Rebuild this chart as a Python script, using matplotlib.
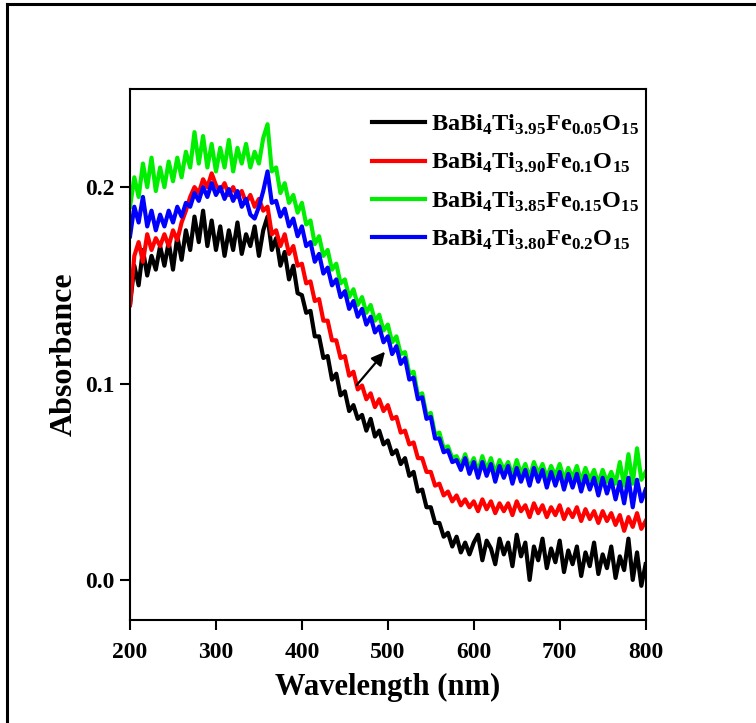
import numpy as np
import matplotlib
matplotlib.use("Agg")
import matplotlib.pyplot as plt
from matplotlib.lines import Line2D

plt.rcParams["font.family"] = "Liberation Serif"
plt.rcParams["font.weight"] = "bold"
plt.rcParams["mathtext.fontset"] = "custom"
plt.rcParams["mathtext.rm"] = "Liberation Serif:bold"
plt.rcParams["mathtext.bf"] = "Liberation Serif:bold"

# Longitud de onda (nm), paso de 5 nm
wl = np.arange(200, 801, 5)

# Absorbancia de cada muestra
abs_005 = [0.140, 0.160, 0.150, 0.168, 0.155, 0.165, 0.158, 0.170,
           0.160, 0.172, 0.158, 0.175, 0.163, 0.178, 0.168, 0.185,
           0.172, 0.188, 0.170, 0.183, 0.168, 0.180, 0.165, 0.178,
           0.168, 0.182, 0.166, 0.176, 0.170, 0.180, 0.165, 0.178,
           0.185, 0.168, 0.174, 0.160, 0.167, 0.153, 0.160, 0.146,
           0.145, 0.136, 0.137, 0.124, 0.124, 0.113, 0.114, 0.102,
           0.105, 0.094, 0.096, 0.086, 0.089, 0.082, 0.084, 0.076,
           0.082, 0.073, 0.076, 0.069, 0.071, 0.064, 0.066, 0.059,
           0.062, 0.053, 0.055, 0.045, 0.046, 0.037, 0.037, 0.029,
           0.029, 0.022, 0.024, 0.017, 0.022, 0.014, 0.019, 0.013,
           0.019, 0.023, 0.010, 0.020, 0.016, 0.008, 0.021, 0.013,
           0.019, 0.007, 0.023, 0.012, 0.019, 0.000, 0.017, 0.010,
           0.021, 0.006, 0.016, 0.009, 0.020, 0.004, 0.015, 0.008,
           0.017, 0.002, 0.014, 0.007, 0.019, 0.003, 0.013, 0.006,
           0.017, 0.001, 0.012, 0.005, 0.021, 0.000, 0.014, -0.003,
           0.008]
abs_010 = [0.140, 0.165, 0.172, 0.162, 0.176, 0.168, 0.174, 0.170,
           0.176, 0.170, 0.178, 0.173, 0.182, 0.188, 0.195, 0.200,
           0.197, 0.204, 0.200, 0.207, 0.201, 0.198, 0.202, 0.196,
           0.200, 0.195, 0.198, 0.192, 0.196, 0.190, 0.194, 0.188,
           0.190, 0.176, 0.178, 0.170, 0.176, 0.166, 0.170, 0.160,
           0.161, 0.151, 0.152, 0.142, 0.143, 0.132, 0.132, 0.122,
           0.122, 0.113, 0.114, 0.104, 0.106, 0.097, 0.099, 0.092,
           0.095, 0.088, 0.092, 0.086, 0.089, 0.082, 0.083, 0.075,
           0.076, 0.069, 0.070, 0.062, 0.062, 0.055, 0.055, 0.048,
           0.049, 0.043, 0.045, 0.040, 0.043, 0.038, 0.041, 0.037,
           0.040, 0.035, 0.041, 0.036, 0.040, 0.034, 0.039, 0.035,
           0.039, 0.033, 0.040, 0.035, 0.038, 0.032, 0.039, 0.034,
           0.038, 0.032, 0.037, 0.033, 0.038, 0.031, 0.036, 0.032,
           0.037, 0.030, 0.036, 0.031, 0.035, 0.029, 0.035, 0.030,
           0.034, 0.028, 0.033, 0.025, 0.032, 0.027, 0.034, 0.026,
           0.030]
abs_015 = [0.190, 0.205, 0.195, 0.212, 0.200, 0.215, 0.198, 0.210,
           0.200, 0.213, 0.203, 0.215, 0.205, 0.218, 0.210, 0.228,
           0.212, 0.226, 0.210, 0.222, 0.208, 0.220, 0.210, 0.224,
           0.208, 0.220, 0.212, 0.222, 0.210, 0.218, 0.212, 0.225,
           0.232, 0.208, 0.210, 0.197, 0.202, 0.192, 0.196, 0.187,
           0.192, 0.181, 0.183, 0.171, 0.175, 0.165, 0.168, 0.158,
           0.161, 0.151, 0.153, 0.144, 0.148, 0.140, 0.144, 0.136,
           0.140, 0.132, 0.135, 0.127, 0.130, 0.121, 0.124, 0.115,
           0.116, 0.105, 0.106, 0.094, 0.095, 0.084, 0.085, 0.074,
           0.075, 0.067, 0.068, 0.062, 0.063, 0.058, 0.064, 0.057,
           0.062, 0.055, 0.063, 0.056, 0.062, 0.054, 0.061, 0.056,
           0.060, 0.053, 0.061, 0.054, 0.059, 0.052, 0.060, 0.054,
           0.059, 0.052, 0.058, 0.053, 0.059, 0.051, 0.057, 0.052,
           0.058, 0.050, 0.057, 0.051, 0.056, 0.049, 0.056, 0.050,
           0.055, 0.049, 0.060, 0.048, 0.064, 0.049, 0.067, 0.051,
           0.055]
abs_020 = [0.175, 0.190, 0.182, 0.195, 0.180, 0.188, 0.178, 0.186,
           0.180, 0.188, 0.182, 0.190, 0.185, 0.192, 0.190, 0.197,
           0.193, 0.200, 0.195, 0.202, 0.196, 0.200, 0.194, 0.199,
           0.193, 0.198, 0.190, 0.194, 0.186, 0.184, 0.190, 0.198,
           0.208, 0.192, 0.193, 0.185, 0.189, 0.180, 0.184, 0.175,
           0.180, 0.170, 0.172, 0.162, 0.166, 0.156, 0.159, 0.150,
           0.153, 0.144, 0.147, 0.138, 0.142, 0.134, 0.138, 0.130,
           0.134, 0.126, 0.129, 0.121, 0.124, 0.115, 0.119, 0.110,
           0.113, 0.102, 0.103, 0.092, 0.093, 0.082, 0.083, 0.072,
           0.072, 0.065, 0.066, 0.060, 0.061, 0.056, 0.062, 0.054,
           0.060, 0.052, 0.060, 0.053, 0.059, 0.050, 0.058, 0.052,
           0.058, 0.049, 0.057, 0.050, 0.056, 0.048, 0.057, 0.050,
           0.056, 0.047, 0.055, 0.048, 0.055, 0.046, 0.054, 0.047,
           0.054, 0.045, 0.053, 0.046, 0.052, 0.043, 0.052, 0.044,
           0.051, 0.041, 0.050, 0.039, 0.052, 0.037, 0.051, 0.040,
           0.046]

series = [abs_005, abs_010, abs_015, abs_020]
colores = ["black", "red", "#00ee00", "blue"]
etiquetas = [r"BaBi$_\mathregular{4}$Ti$_\mathregular{3.95}$Fe$_\mathregular{0.05}$O$_\mathregular{15}$",
             r"BaBi$_\mathregular{4}$Ti$_\mathregular{3.90}$Fe$_\mathregular{0.1}$O$_\mathregular{15}$",
             r"BaBi$_\mathregular{4}$Ti$_\mathregular{3.85}$Fe$_\mathregular{0.15}$O$_\mathregular{15}$",
             r"BaBi$_\mathregular{4}$Ti$_\mathregular{3.80}$Fe$_\mathregular{0.2}$O$_\mathregular{15}$"]

fig = plt.figure(figsize=(7.56, 7.23), dpi=100)
ax = fig.add_axes([0.172, 0.1425, 0.682, 0.7345])

for y, c, lab in zip(series, colores, etiquetas):
    ax.plot(wl, y, color=c, lw=3.0, label=lab)

ax.set_xlim(200, 800)
ax.set_ylim(-0.0204, 0.25)
ax.set_xticks([200, 300, 400, 500, 600, 700, 800])
ax.set_yticks([0.0, 0.1, 0.2])
ax.set_yticklabels(["0.0", "0.1", "0.2"])
ax.tick_params(direction="out", length=7, width=1.5, labelsize=17, pad=4)
ax.tick_params(axis="x", pad=9)
for s in ax.spines.values():
    s.set_linewidth(1.5)

ax.set_xlabel("Wavelength (nm)", fontsize=22, fontweight="bold", labelpad=7)
ax.set_ylabel("Absorbance", fontsize=23, fontweight="bold", labelpad=5)

# Flecha que indica el aumento de absorbancia
ax.annotate("", xy=(496.7, 0.1162), xytext=(463.8, 0.0992),
            arrowprops=dict(arrowstyle="-|>", lw=1.6, color="black",
                            mutation_scale=20, shrinkA=0, shrinkB=0))

leg = ax.legend(loc="upper left", bbox_to_anchor=(0.469, 0.955), frameon=False,
                fontsize=17.5, handlelength=2.2, handletextpad=0.25,
                labelspacing=0.58, borderpad=0, borderaxespad=0)
for h in leg.get_lines():
    h.set_linewidth(3.0)

# Marco exterior
fig.add_artist(Line2D([0.0099, 0.0099], [0, 0.995], color="black", lw=2.2,
                      transform=fig.transFigure))
fig.add_artist(Line2D([0.0099, 1.0], [0.995, 0.995], color="black", lw=2.2,
                      transform=fig.transFigure))

plt.savefig("out.png", dpi=100)
